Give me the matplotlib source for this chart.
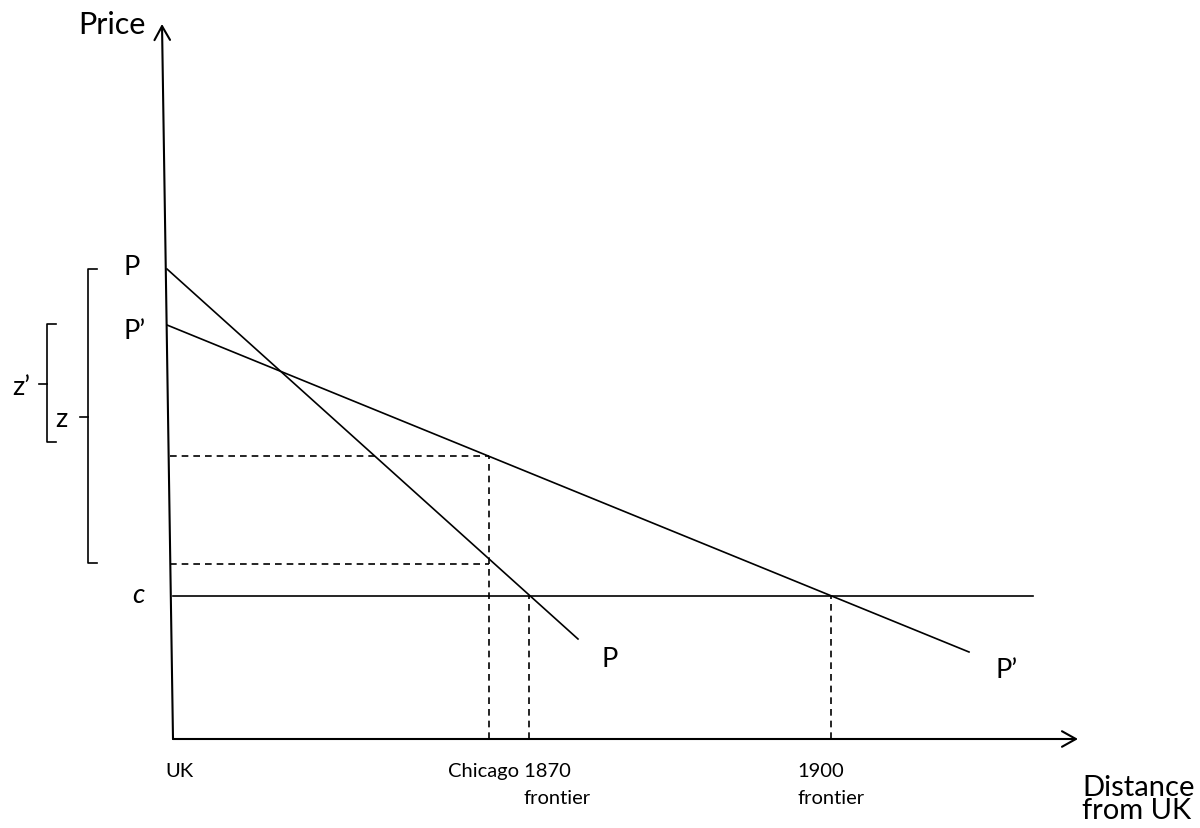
import matplotlib.pyplot as plt
from matplotlib.patches import FancyArrowPatch

plt.rcParams['font.family'] = ['Lato', 'DejaVu Sans']

# diagram data (distance from UK on x, price on y; origin at UK)
p_line_x = [-6, 405]
p_line_y = [470, 100]
p2_line_x = [-6, 796]
p2_line_y = [414, 87]
c_price = 143
c_line_x = [0, 860]

chicago = 316
frontier_1870 = 356
frontier_1900 = 658
price_chicago = [283, 175]      # P' and P at Chicago

y_axis_top = (-11, 715)
x_axis_end = 905

# brackets: (x, y_top, y_bottom, y_mid)
bracket_z = (-85, 470, 176, 322)
bracket_z2 = (-126, 415, 297, 355)

fig = plt.figure(figsize=(12, 8.29), dpi=100)
ax = fig.add_axes([0, 0, 1, 1])
ax.set_xlim(-173, 1027)
ax.set_ylim(-89, 740)
ax.axis('off')

lw = 1.2
k = 'black'

# axes with open arrow heads
arrow = dict(arrowstyle='->,head_length=0.5,head_width=0.28', mutation_scale=20,
             lw=1.5, color=k, shrinkA=0, shrinkB=0)
ax.add_patch(FancyArrowPatch((0, 0), y_axis_top, **arrow))
ax.add_patch(FancyArrowPatch((0, 0), (x_axis_end, 0), **arrow))

# price lines
ax.plot(p_line_x, p_line_y, color=k, lw=lw)
ax.plot(p2_line_x, p2_line_y, color=k, lw=lw)
ax.plot(c_line_x, [c_price, c_price], color=k, lw=lw)

# dashed guides
dash = (0, (4, 3))
for py in price_chicago:
    ax.plot([-3, chicago], [py, py], color=k, lw=lw, linestyle=dash)
ax.plot([chicago, chicago], [0, max(price_chicago)], color=k, lw=lw, linestyle=dash)
ax.plot([frontier_1870, frontier_1870], [0, c_price], color=k, lw=lw, linestyle=dash)
ax.plot([frontier_1900, frontier_1900], [0, c_price], color=k, lw=lw, linestyle=dash)

# brackets
def bracket(x, top, bottom, mid):
    ax.plot([x + 9, x, x, x + 9], [top, top, bottom, bottom], color=k, lw=lw)
    ax.plot([x, x - 8], [mid, mid], color=k, lw=lw)

bracket(*bracket_z)
bracket(*bracket_z2)

# labels
ax.text(-95, 706, 'Price', fontsize=22, va='baseline')
ax.text(-50, 465, 'P', fontsize=19.5, va='baseline')
ax.text(-50, 401, 'P’', fontsize=19.5, va='baseline')
ax.text(-161, 345, 'z’', fontsize=19.5, va='baseline')
ax.text(-118, 313, 'z', fontsize=19.5, va='baseline')
ax.text(-41, 137, 'c', fontsize=19.5, va='baseline', style='italic')
ax.text(429, 73, 'P', fontsize=19.5, va='baseline')
ax.text(822, 62, 'P’', fontsize=19.5, va='baseline')

ax.text(-8, -37, 'UK', fontsize=14.5, va='baseline')
ax.text(275, -37, 'Chicago 1870', fontsize=14.5, va='baseline')
ax.text(350, -64, 'frontier', fontsize=14.5, va='baseline')
ax.text(624, -37, '1900', fontsize=14.5, va='baseline')
ax.text(624, -64, 'frontier', fontsize=14.5, va='baseline')
ax.text(909, -35, 'Distance\nfrom UK', fontsize=21, va='top', linespacing=0.85)

fig.savefig('out.png', dpi=100)
